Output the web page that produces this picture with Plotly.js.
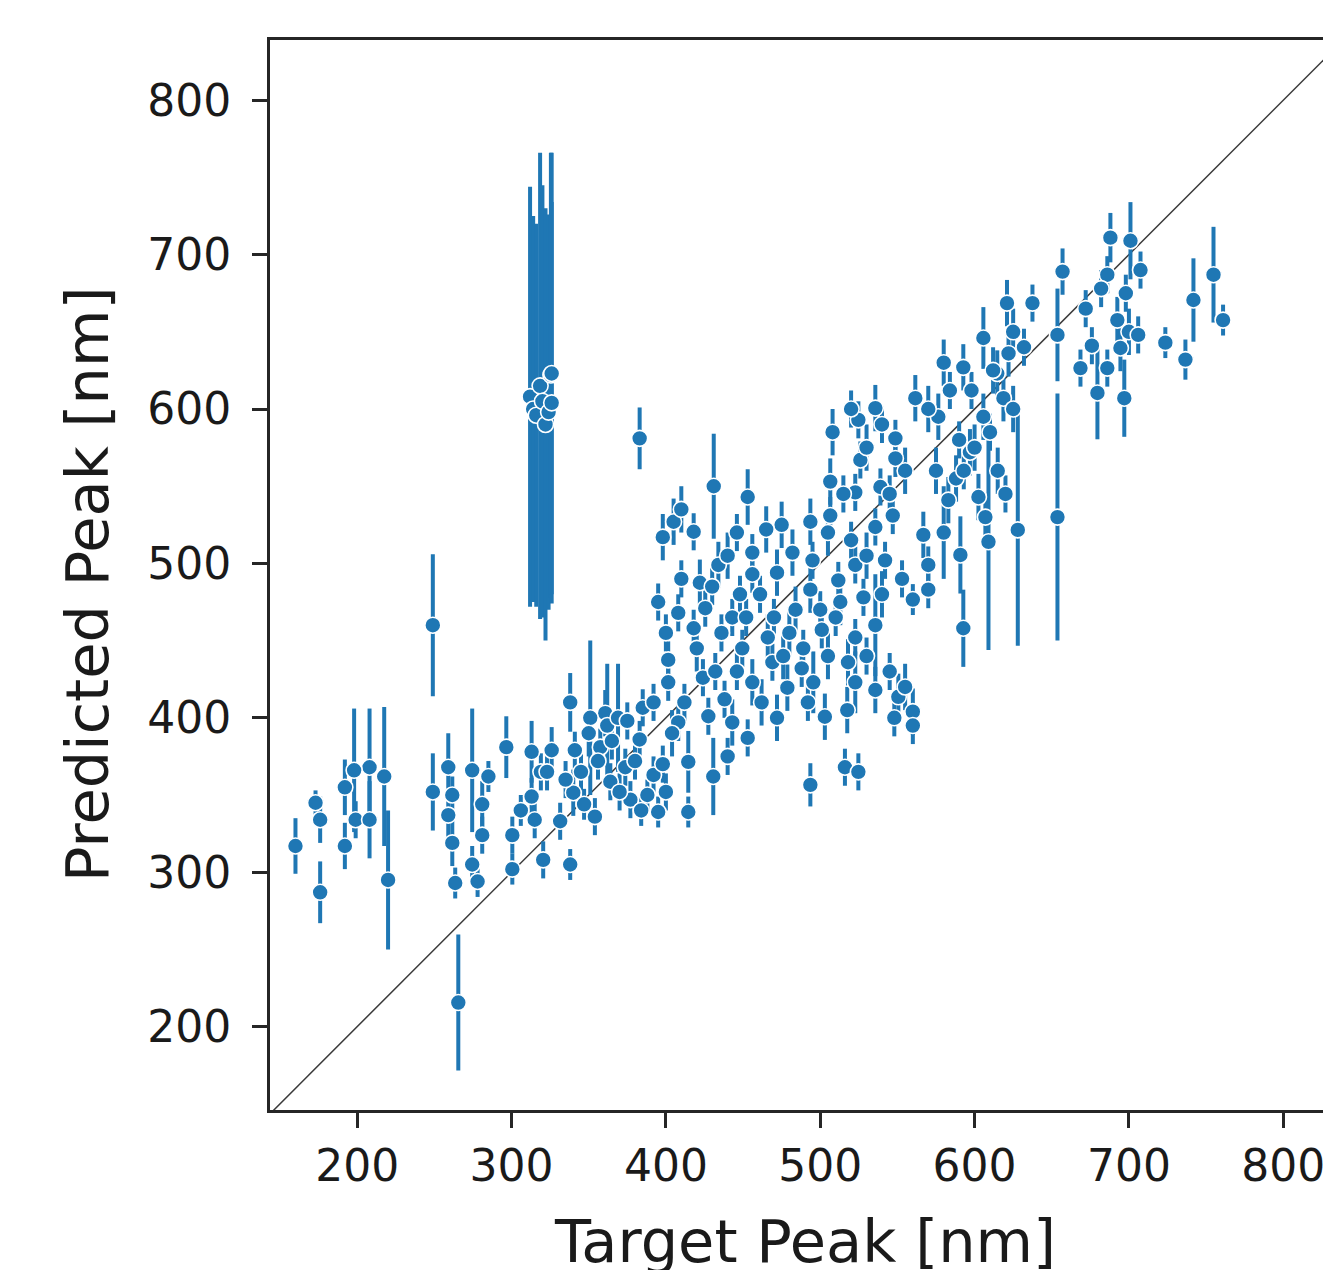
<!DOCTYPE html>
<html>
<head>
<meta charset="utf-8">
<script src="https://cdn.plot.ly/plotly-3.0.1.min.js"></script>
<style>
html,body{margin:0;padding:0;background:#fff;overflow:hidden;}
#chart{width:1350px;height:1270px;}
</style>
</head>
<body>
<div id="chart"></div>
<script>
// Target peak wavelength [nm]
const target = [
  160,176,173,176,192,192,199,208,208,217.5,220,198,
  249,
  249,259,274.5,259,261.6,261.6,281,281,274.5,263.5,278,285,296.6,313,319,313,315,300.5,300.5,320.5,
  326,323,331.5,338,340,341,338,306,265.5,
  312,314,316,318.5,320,322,324,325.5,326,326,
  383,431,453,405,418,398,434,456,456,472,475,461,484,422,425.5,408,443,418,449.5,466,469,
  401.5,401.5,424,456,478.7,385,360.7,408,427.5,443,453,383,357.5,373.7,414.5,440,430.7,364,392,
  377,354,395,414.5,351,362,369,472,
  535.7,561.6,548.7,524.7,526,548.7,506.5,522.7,539,547,535.7,493.6,506.5,566.8,570,570,560,542,
  522.7,482,495,511.7,493.6,513,500,535.7,501,522.7,489,518,522.7,495.5,550.6,535.7,503,517.5,
  516,493.6,524.7,560,
  657,686,653.7,653.7,692.5,676,694.5,668.6,686,679.6,697,621,637.5,605.7,622,592.7,614.7,618.7,
  576.5,605.7,584,583,602.5,580,590.8,609,628,592.7,688,701,707.5,723.6,736.6,741.8,754.8,761,
  597,588,610,
  345,350,365,370,380,388,398,404,392,375,347,335,356,384,400,
  412,420,432,438,446,462,470,480,488,430,440,448,465,410,395,400,436,452,476,492,410,446,
  505,515,530,540,555,545,520,530,510,528,540,553,505,530,545,555,560,548,508,520,
  570,580,598,612,625,632,600,593,615,625,607,620,575,590,
  682,698,700,672,706
];
// Predicted peak wavelength [nm]
const predicted = [
  317,334,345,287,355,317,334,368,334,362,295,366,
  460,
  352,368,366,337,319,350,344,324,305,293,294,362,381,378,365,349,334,324,302,308,
  379,365,333,305,351.5,379,410,340,215.6,
  608,600,596,615,605,590,598,622,623,604,
  581,550,543,527,520.5,517,499,507,493,494,525,480,470,487.5,471,468,465,458,445,452,436,
  437.5,423,426,423,419.5,406.5,403,397,401,397,387,386,381,368,371.5,375,362,358.6,363,
  347,336,339,339,400,395,400,400,
  600.6,607,581,593,567,568,553,546,549.5,531,523.6,527,531,518.5,499,483,476.6,502,
  499,507,502,489,483,475,470,460,457,452,445,436,423,423,413.6,418,400.7,405,
  368,356.6,365,404,
  689,687,648,530,657.6,641,639.5,626.5,626.5,610.4,607,668.6,668.6,646,636,627,623,607,
  595,595,612,541,543,520,505.5,514,521.7,458,711,709,690,643,632,670.6,687,657.6,
  572,555,585,
  365,390,385,352,372,350,370,390,410,398,344,360,372,340,352,
  410,445,430,412,430,410,465,455,432,485,505,480,522,490,475,455,455,465,440,410,535,520,
  520,545,575,590,560,545,515,505,465,478,480,490,440,440,430,420,395,400,585,600,
  600,630,612,625,650,640,575,560,560,600,530,545,560,580,
  678,675,650,665,648
];
// Uncertainty (half-length of error bar) [nm]
const predErr = [
  18,15,8,20,18,15,12,38,25,45,45,40,
  46,
  25,22,40,15,15,12,15,12,12,10,10,10,20,20,12,12,12,12,10,12,
  15,12,12,10,15,12,19,10,44,
  136,125,124,151,140,140,128,144,143,130,
  20,34,18,15,12,15,15,12,12,15,15,12,15,15,12,12,12,12,12,15,12,
  12,12,12,15,15,12,15,12,12,15,12,12,12,12,20,12,25,12,12,
  12,12,10,10,50,40,35,15,
  15,15,12,12,12,12,15,12,12,12,12,15,12,15,12,12,10,12,
  12,15,12,12,15,15,12,33,12,12,12,15,20,20,15,15,15,15,
  12,14,12,15,
  15,12,30,80,15,12,15,12,12,30,25,15,12,20,15,15,15,15,
  15,15,12,15,15,30,25,70,75,25,16,25,12,10,13,27,31,10,
  15,15,12,
  12,15,12,12,12,10,12,15,12,12,10,12,12,10,12,
  12,15,12,12,12,15,12,15,12,12,15,12,15,12,12,12,12,12,15,12,15,12,
  15,12,15,12,15,12,12,15,12,12,15,12,15,12,12,15,12,12,15,12,
  15,15,12,15,15,12,15,12,15,15,12,12,15,12,
  12,12,15,12,12
];
const xRange = [143.5, 840];
const yRange = [146, 839];
const xTicks = [200, 300, 400, 500, 600, 700, 800];
const yTicks = [200, 300, 400, 500, 600, 700, 800];
const xTitle = 'Target Peak [nm]';
const yTitle = 'Predicted Peak [nm]';

const blue = '#1f77b4';
const textColor = '#1a1a1a';
const fontFam = 'DejaVu Sans, sans-serif';

const traces = [
  {
    type: 'scatter', mode: 'lines',
    x: xRange, y: xRange,
    line: {color: '#3a3a3a', width: 1.5},
    hoverinfo: 'skip', showlegend: false
  },
  {
    type: 'scatter', mode: 'markers',
    x: target, y: predicted,
    error_y: {type: 'data', array: predErr, visible: true, color: blue, thickness: 4, width: 0},
    marker: {color: blue, size: 16, line: {color: '#ffffff', width: 1.6}},
    showlegend: false
  }
];

const axisCommon = {
  showgrid: false, zeroline: false,
  showline: true, linecolor: '#262626', linewidth: 3, mirror: true,
  ticks: 'outside', ticklen: 15, tickwidth: 3, tickcolor: '#262626',
  tickfont: {family: fontFam, size: 44, color: textColor}
};

const layout = {
  width: 1350, height: 1270,
  margin: {l: 270, r: 5, t: 40, b: 160},
  paper_bgcolor: '#ffffff', plot_bgcolor: '#ffffff',
  showlegend: false,
  xaxis: Object.assign({}, axisCommon, {
    range: xRange, tickvals: xTicks, ticktext: xTicks.map(String)
  }),
  yaxis: Object.assign({}, axisCommon, {
    range: yRange, tickvals: yTicks, ticktext: yTicks.map(String),
    ticklabelstandoff: 12
  }),
  annotations: [
    {
      text: xTitle, xref: 'paper', yref: 'paper', x: 0.4977, y: 0,
      xanchor: 'center', yanchor: 'top', yshift: -95, showarrow: false,
      font: {family: fontFam, size: 59, color: textColor}
    },
    {
      text: yTitle, xref: 'paper', yref: 'paper', x: 0, y: 0.5,
      xanchor: 'center', yanchor: 'middle', xshift: -183, yshift: -10, textangle: -90, showarrow: false,
      font: {family: fontFam, size: 59, color: textColor}
    }
  ]
};

Plotly.newPlot('chart', traces, layout, {staticPlot: true, displayModeBar: false});
</script>
</body>
</html>
